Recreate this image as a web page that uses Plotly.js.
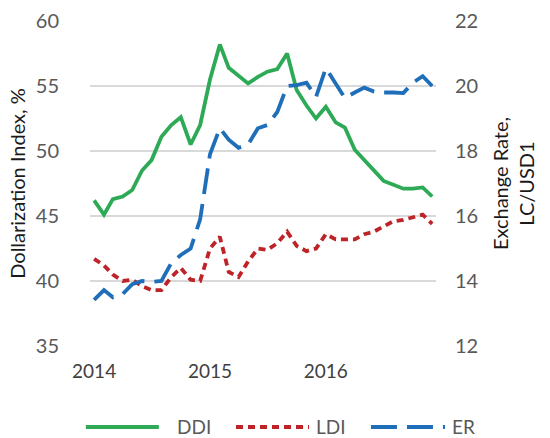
<!DOCTYPE html>
<html>
<head>
<meta charset="utf-8">
<script src="https://cdn.plot.ly/plotly-3.0.1.min.js"></script>
<style>html,body{margin:0;padding:0;background:#fff;}#chart{width:550px;height:438px;}</style>
</head>
<body>
<div id="chart"></div>
<script>
var months = [
  '2014-01-01','2014-02-01','2014-03-01','2014-04-01','2014-05-01','2014-06-01',
  '2014-07-01','2014-08-01','2014-09-01','2014-10-01','2014-11-01','2014-12-01',
  '2015-01-01','2015-02-01','2015-03-01','2015-04-01','2015-05-01','2015-06-01',
  '2015-07-01','2015-08-01','2015-09-01','2015-10-01','2015-11-01','2015-12-01',
  '2016-01-01','2016-02-01','2016-03-01','2016-04-01','2016-05-01','2016-06-01',
  '2016-07-01','2016-08-01','2016-09-01','2016-10-01','2016-11-01','2016-12-01'
];
var ddi = [46.2,45.1,46.3,46.5,47.0,48.5,49.3,51.1,52.0,52.6,50.5,52.0,
           55.5,58.2,56.4,55.8,55.2,55.7,56.1,56.3,57.5,54.7,53.5,52.5,
           53.4,52.2,51.8,50.1,49.3,48.5,47.7,47.4,47.1,47.1,47.2,46.5];
var ldi = [41.7,41.2,40.5,40.0,40.1,39.6,39.3,39.3,40.3,41.0,40.1,40.0,
           42.5,43.4,40.7,40.3,41.5,42.5,42.4,42.9,43.8,42.7,42.3,42.5,
           43.6,43.2,43.2,43.2,43.6,43.8,44.2,44.6,44.7,44.9,45.1,44.4];
var er  = [13.42,13.72,13.5,13.6,13.9,14.0,13.97,14.0,14.55,14.8,15.0,15.9,
           17.9,18.7,18.35,18.1,18.2,18.7,18.8,19.2,20.0,20.03,20.1,19.66,
           20.55,20.1,19.63,19.8,19.95,19.83,19.8,19.8,19.78,20.1,20.3,20.0];
var seriesNames = ['DDI','LDI','ER'];
var yearTicks = ['2014-01-01','2015-01-01','2016-01-01'];
var yearLabels = ['2014','2015','2016'];

var colors = ['#2EAA57','#BE2328','#1F6EB9'];
var dashes = ['solid','7px,5px','26px,10px'];
var font = 'Lato, "Liberation Sans", sans-serif';
var values = [ddi, ldi, er];
var axes = ['y','y','y2'];
var traces = values.map(function(v, k){
  return {x: months, y: v, name: seriesNames[k], type: 'scatter', mode: 'lines',
          line: {color: colors[k], width: 3.8, dash: dashes[k]}, yaxis: axes[k],
          showlegend: false};
});

// custom legend (line samples + labels) below the plot, in paper coordinates
var legY = -0.249;
var legLines = [[-0.012, 0.199], [0.422, 0.633], [0.812, 1.026]];
var legText = [0.245, 0.648, 1.041];
var shapes = [], annotations = [];
for (var k = 0; k < 3; k++) {
  shapes.push({type: 'line', xref: 'paper', yref: 'paper',
    x0: legLines[k][0], x1: legLines[k][1], y0: legY, y1: legY,
    line: {color: colors[k], width: 4, dash: dashes[k]}});
  annotations.push({xref: 'paper', yref: 'paper', x: legText[k], y: legY,
    xanchor: 'left', yanchor: 'middle', showarrow: false, text: seriesNames[k],
    font: {size: 19, color: '#595959', family: font}});
}

var layout = {
  width: 550, height: 438,
  margin: {l: 90, r: 114, t: 21, b: 92},
  paper_bgcolor: '#fff', plot_bgcolor: '#fff',
  font: {family: font, size: 20, color: '#595959'},
  showlegend: false,
  shapes: shapes, annotations: annotations,
  xaxis: {type: 'date', range: ['2013-12-19', '2016-12-13'],
          tickvals: yearTicks, ticktext: yearLabels, showgrid: false,
          showline: false, zeroline: false, ticks: '', ticklabelstandoff: 12,
          tickfont: {size: 19, color: '#404040'}},
  yaxis: {range: [35, 60], dtick: 5, tick0: 35, showgrid: true, gridcolor: '#D9D9D9',
          gridwidth: 2, zeroline: false, showline: false, ticks: '', ticklabelstandoff: 30,
          tickfont: {size: 20, color: '#595959'},
          title: {text: 'Dollarization Index, %', font: {size: 20, color: '#1a1a1a'}, standoff: 4}},
  yaxis2: {range: [12, 22], dtick: 2, tick0: 12, overlaying: 'y', side: 'right',
           showgrid: false, zeroline: false, showline: false, ticks: '', ticklabelstandoff: 18,
           tickfont: {size: 20, color: '#595959'},
           title: {text: 'Exchange Rate,<br>LC/USD1', font: {size: 20, color: '#1a1a1a'}, standoff: 16}}
};
Plotly.newPlot('chart', traces, layout, {displayModeBar: false, staticPlot: true});
</script>
</body>
</html>
